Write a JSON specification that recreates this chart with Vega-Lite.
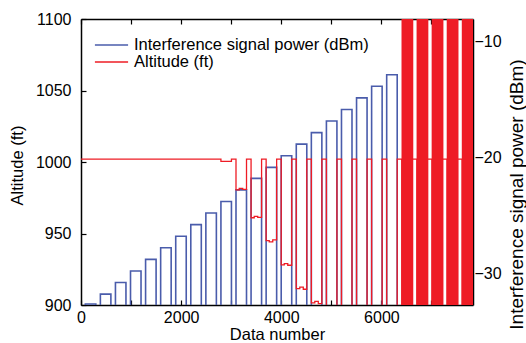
{
  "$schema": "https://vega.github.io/schema/vega-lite/v6.json",
  "width": 392,
  "height": 286,
  "autosize": "none",
  "padding": {"left": 81, "top": 19, "right": 53, "bottom": 38},
  "config": {
    "view": {"stroke": null},
    "font": "Liberation Sans",
    "axis": {
      "domainColor": "black", "domainWidth": 1.5, "tickColor": "black", "tickWidth": 1.2,
      "labelColor": "black", "titleColor": "black", "labelFontSize": 16, "titleFontWeight": "normal",
      "grid": false, "labelFont": "Liberation Sans", "titleFont": "Liberation Sans", "labelFlush": false
    }
  },
  "datasets": {
    "power": [
      {"t": 0, "dbm": -34}, {"t": 86, "dbm": -32.65}, {"t": 296, "dbm": -34},
      {"t": 387, "dbm": -31.8}, {"t": 597, "dbm": -34},
      {"t": 688, "dbm": -30.8}, {"t": 898, "dbm": -34},
      {"t": 989, "dbm": -29.8}, {"t": 1199, "dbm": -34},
      {"t": 1290, "dbm": -28.8}, {"t": 1500, "dbm": -34},
      {"t": 1591, "dbm": -27.8}, {"t": 1801, "dbm": -34},
      {"t": 1892, "dbm": -26.8}, {"t": 2102, "dbm": -34},
      {"t": 2193, "dbm": -25.8}, {"t": 2403, "dbm": -34},
      {"t": 2494, "dbm": -24.8}, {"t": 2704, "dbm": -34},
      {"t": 2795, "dbm": -23.8}, {"t": 3005, "dbm": -34},
      {"t": 3096, "dbm": -22.8}, {"t": 3306, "dbm": -34},
      {"t": 3397, "dbm": -21.8}, {"t": 3607, "dbm": -34},
      {"t": 3698, "dbm": -20.85}, {"t": 3908, "dbm": -34},
      {"t": 3999, "dbm": -19.85}, {"t": 4209, "dbm": -34},
      {"t": 4300, "dbm": -18.85}, {"t": 4510, "dbm": -34},
      {"t": 4601, "dbm": -17.85}, {"t": 4811, "dbm": -34},
      {"t": 4902, "dbm": -16.85}, {"t": 5112, "dbm": -34},
      {"t": 5203, "dbm": -15.85}, {"t": 5413, "dbm": -34},
      {"t": 5504, "dbm": -14.85}, {"t": 5714, "dbm": -34},
      {"t": 5805, "dbm": -13.85}, {"t": 6015, "dbm": -34},
      {"t": 6106, "dbm": -12.85}, {"t": 6316, "dbm": -34},
      {"t": 7830, "dbm": -34}
    ],
    "altitude": [
      {"t": 0, "ft": 1002}, {"t": 2795, "ft": 1000.5}, {"t": 3005, "ft": 1002},
      {"t": 3096, "ft": 980.5}, {"t": 3160, "ft": 981.5}, {"t": 3230, "ft": 980.8}, {"t": 3306, "ft": 1002},
      {"t": 3397, "ft": 961}, {"t": 3460, "ft": 962}, {"t": 3530, "ft": 961.3}, {"t": 3607, "ft": 1002},
      {"t": 3698, "ft": 945}, {"t": 3760, "ft": 944.2}, {"t": 3830, "ft": 945.5}, {"t": 3908, "ft": 1002},
      {"t": 3999, "ft": 928}, {"t": 4060, "ft": 929}, {"t": 4130, "ft": 927.8}, {"t": 4209, "ft": 1002},
      {"t": 4300, "ft": 911.5}, {"t": 4370, "ft": 912.5}, {"t": 4440, "ft": 911}, {"t": 4510, "ft": 1002},
      {"t": 4601, "ft": 901.5}, {"t": 4670, "ft": 902.5}, {"t": 4740, "ft": 901}, {"t": 4811, "ft": 1002},
      {"t": 4902, "ft": 870}, {"t": 5112, "ft": 1002},
      {"t": 5203, "ft": 870}, {"t": 5413, "ft": 1002},
      {"t": 5504, "ft": 870}, {"t": 5714, "ft": 1002},
      {"t": 5805, "ft": 870}, {"t": 6015, "ft": 1002},
      {"t": 6106, "ft": 870}, {"t": 6316, "ft": 1002},
      {"t": 6407, "ft": 870}, {"t": 6617, "ft": 1002},
      {"t": 6708, "ft": 870}, {"t": 6918, "ft": 1002},
      {"t": 7009, "ft": 870}, {"t": 7219, "ft": 1002},
      {"t": 7310, "ft": 870}, {"t": 7520, "ft": 1002},
      {"t": 7611, "ft": 870}, {"t": 7821, "ft": 1002},
      {"t": 7830, "ft": 1002}
    ],
    "blocks": [
      {"t0": 6402, "t1": 6637}, {"t0": 6703, "t1": 6938}, {"t0": 7004, "t1": 7239},
      {"t0": 7305, "t1": 7540}, {"t0": 7606, "t1": 7841}
    ]
  },
  "layer": [
    {
      "data": {"name": "power"},
      "mark": {"type": "line", "interpolate": "step-after", "clip": true, "strokeWidth": 1.6},
      "encoding": {
        "x": {
          "field": "t", "type": "quantitative", "title": "Data number",
          "scale": {"domain": [0, 7830], "nice": false, "zero": false},
          "axis": {"orient": "top", "values": [0, 1000, 2000, 3000, 4000, 5000, 6000, 7000], "labels": false, "title": null, "tickSize": -5}
        },
        "y": {
          "field": "dbm", "type": "quantitative",
          "scale": {"domain": [-32.74, -8.04], "nice": false, "zero": false},
          "axis": {
            "orient": "right", "values": [-30, -20, -10], "format": "d", "tickSize": -5, "labelPadding": 6,
            "title": "Interference signal power (dBm)", "titleFontSize": 19, "titleAngle": 270,
            "titleX": 49, "titleY": 175, "titleAlign": "center", "titleBaseline": "alphabetic"
          }
        },
        "color": {
          "datum": "Interference signal power (dBm)", "type": "nominal",
          "scale": {"domain": ["Interference signal power (dBm)", "Altitude (ft)"], "range": ["#4a5cab", "#ee1c25"]},
          "legend": {
            "orient": "none", "legendX": 13, "legendY": 18, "title": null,
            "symbolType": "stroke", "symbolSize": 1100, "symbolStrokeWidth": 1.5,
            "clipHeight": 16, "rowPadding": 0, "labelFontSize": 16.5, "labelOffset": 5, "padding": 0,
            "labelLimit": 0, "labelColor": "black", "labelFont": "Liberation Sans"
          }
        }
      }
    },
    {
      "layer": [
        {
          "data": {"name": "altitude"},
          "mark": {"type": "line", "interpolate": "step-after", "clip": true, "strokeWidth": 1.3},
          "encoding": {
            "x": {
              "field": "t", "type": "quantitative", "title": "Data number",
              "axis": {
                "orient": "bottom", "values": [0, 1000, 2000, 3000, 4000, 5000, 6000, 7000],
                "labelExpr": "datum.value % 2000 === 0 ? format(datum.value, 'd') : ''",
                "tickSize": -5, "labelPadding": 9, "labelDx": -3,
                "titleFontSize": 16.5, "titleY": 34, "titleBaseline": "alphabetic"
              }
            },
            "y": {
              "field": "ft", "type": "quantitative",
              "scale": {"domain": [900, 1100], "nice": false, "zero": false},
              "axis": {
                "orient": "left", "values": [900, 925, 950, 975, 1000, 1025, 1050, 1075, 1100],
                "labelExpr": "datum.value % 50 === 0 ? format(datum.value, 'd') : ''",
                "tickSize": -5, "labelPadding": 15,
                "title": "Altitude (ft)", "titleFontSize": 16.5, "titleAngle": 270,
                "titleX": -59, "titleY": 146, "titleAlign": "center", "titleBaseline": "alphabetic"
              }
            },
            "color": {"datum": "Altitude (ft)", "type": "nominal"}
          }
        },
        {
          "data": {"name": "blocks"},
          "mark": {"type": "rect", "clip": true, "color": "#ee1c25"},
          "encoding": {
            "x": {"field": "t0", "type": "quantitative", "title": "Data number"},
            "x2": {"field": "t1"},
            "y": {"datum": 900, "type": "quantitative"},
            "y2": {"datum": 1100}
          }
        }
      ]
    }
  ],
  "resolve": {"scale": {"y": "independent"}, "axis": {"x": "independent"}}
}
